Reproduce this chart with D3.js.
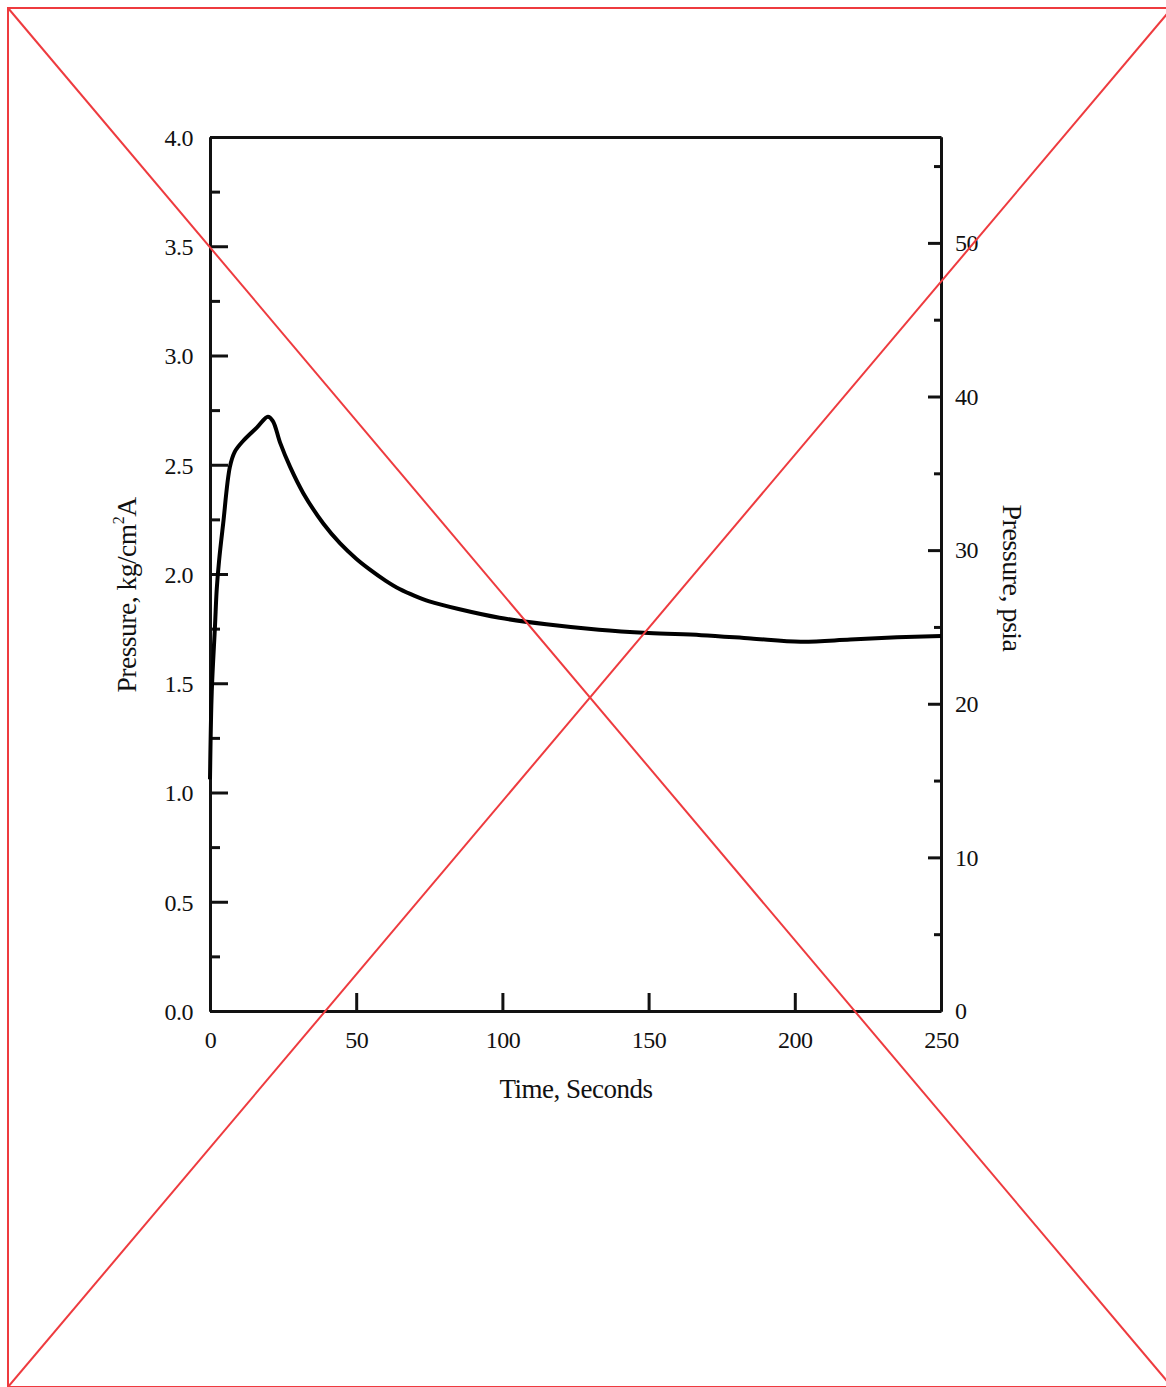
<!DOCTYPE html>
<html>
<head>
<meta charset="utf-8">
<script src="https://cdn.jsdelivr.net/npm/d3@7"></script>
<style>
  html, body { margin: 0; padding: 0; background: #fff; }
  svg { display: block; }
  text { font-family: "Liberation Serif", "Times New Roman", serif; fill: #111; }
</style>
</head>
<body>
<svg id="chart" width="1166" height="1387"></svg>
<script>
// ---- data ----
const timeSec = [0, 0.6, 1.7, 2.3, 3.1, 4.5, 6.8, 8.5, 11.4, 16, 19.8, 21.5, 24, 27.4, 31.9, 38.8, 44.5, 50, 54.7, 60, 65, 70, 75, 85, 99, 115, 133, 150, 168, 185, 202, 219, 235, 250];
const pressureKg = [1.06, 1.46, 1.76, 1.93, 2.06, 2.23, 2.49, 2.56, 2.61, 2.67, 2.72, 2.70, 2.60, 2.49, 2.37, 2.23, 2.14, 2.07, 2.02, 1.97, 1.93, 1.90, 1.875, 1.84, 1.80, 1.77, 1.745, 1.73, 1.72, 1.705, 1.69, 1.70, 1.71, 1.716];
const xTicks = [0, 50, 100, 150, 200, 250];
const yMajorTicks = [0, 0.5, 1.0, 1.5, 2.0, 2.5, 3.0, 3.5, 4.0];
const yMinorTicks = [0.25, 0.75, 1.25, 1.75, 2.25, 2.75, 3.25, 3.75];
const psiMajorTicks = [0, 10, 20, 30, 40, 50];
const psiMinorTicks = [5, 15, 25, 35, 45, 55];
const xTitle = "Time, Seconds";
const rightTitle = "Pressure, psia";

const svg = d3.select("#chart");
const L = 210, R = 941, T = 137, B = 1011;
const x = d3.scaleLinear().domain([0, 250]).range([L, R]);
const y = d3.scaleLinear().domain([0, 4.0]).range([B, T]);
const psiPerKg = 14.223;
const y2 = d3.scaleLinear().domain([0, 4.0 * psiPerKg]).range([B, T]);

const axisColor = "#111";
const serif = '"Liberation Serif", "Times New Roman", serif';

// left axis: major ticks (inward)
const gL = svg.append("g").attr("transform", `translate(${L},0)`)
  .call(d3.axisLeft(y).tickValues(yMajorTicks).tickSizeInner(-18).tickSizeOuter(0).tickPadding(17)
  .tickFormat(d3.format(".1f")));
const gLm = svg.append("g").attr("transform", `translate(${L},0)`)
  .call(d3.axisLeft(y).tickValues(yMinorTicks).tickSizeInner(-10).tickSizeOuter(0).tickFormat(""));

// right axis (psia)
const gR = svg.append("g").attr("transform", `translate(${R},0)`)
  .call(d3.axisRight(y2).tickValues(psiMajorTicks).tickSizeInner(-13).tickSizeOuter(0).tickPadding(14).tickFormat(d3.format("d")));
const gRm = svg.append("g").attr("transform", `translate(${R},0)`)
  .call(d3.axisRight(y2).tickValues(psiMinorTicks).tickSizeInner(-7).tickSizeOuter(0).tickFormat(""));

// bottom axis
const gB = svg.append("g").attr("transform", `translate(0,${B})`)
  .call(d3.axisBottom(x).tickValues(xTicks).tickSizeInner(-18).tickSizeOuter(0).tickPadding(29).tickFormat(d3.format("d")));

// top axis (frame only)
const gT = svg.append("g").attr("transform", `translate(0,${T})`)
  .call(d3.axisTop(x).tickValues([]).tickSizeOuter(0));

[gL, gLm, gR, gRm, gB, gT].forEach(g => {
  g.attr("font-family", null).attr("font-size", null);
  g.select(".domain").attr("stroke", axisColor).attr("stroke-width", 3);
  g.selectAll(".tick line").attr("stroke", axisColor).attr("stroke-width", 3);
  g.selectAll(".tick text")
    .style("font-family", serif).style("font-size", "24px")
    .attr("fill", "#111").attr("letter-spacing", "-0.5px");
});
gL.selectAll(".tick text").attr("dy", "0.35em");
gB.selectAll(".tick text").attr("dy", "0.35em");

// curve
const pts = timeSec.map((t, i) => [t, pressureKg[i]]);
svg.append("path")
  .datum(pts)
  .attr("fill", "none")
  .attr("stroke", "#000")
  .attr("stroke-width", 4)
  .attr("stroke-linejoin", "round")
  .attr("d", d3.line().x(d => x(d[0])).y(d => y(d[1])).curve(d3.curveCatmullRom.alpha(0.5)));

// axis titles
svg.append("text")
  .attr("x", 576).attr("y", 1098)
  .attr("text-anchor", "middle").attr("font-size", 27).attr("letter-spacing", "-0.5px")
  .text(xTitle);

const lt = svg.append("text")
  .attr("transform", `translate(136,595) rotate(-90)`)
  .attr("text-anchor", "middle").attr("font-size", 27.5).attr("letter-spacing", "-0.5px");
lt.append("tspan").text("Pressure, kg/cm");
lt.append("tspan").attr("font-size", 16).attr("dy", -12).text("2");
lt.append("tspan").attr("dy", 12).text("A");

svg.append("text")
  .attr("transform", `translate(1003,578) rotate(90)`)
  .attr("text-anchor", "middle").attr("font-size", 28).attr("letter-spacing", "-0.5px")
  .text(rightTitle);

// red placeholder frame and cross
const red = "#ee3b3f";
const fx = 8, fy = 8, fw = 1164, fh = 1379;
svg.append("rect").attr("x", fx).attr("y", fy).attr("width", fw).attr("height", fh)
  .attr("fill", "none").attr("stroke", red).attr("stroke-width", 2);
svg.append("line").attr("x1", fx).attr("y1", fy).attr("x2", fx + fw).attr("y2", fy + fh)
  .attr("stroke", red).attr("stroke-width", 2);
svg.append("line").attr("x1", fx).attr("y1", fy + fh).attr("x2", fx + fw).attr("y2", fy)
  .attr("stroke", red).attr("stroke-width", 2);
</script>
</body>
</html>
